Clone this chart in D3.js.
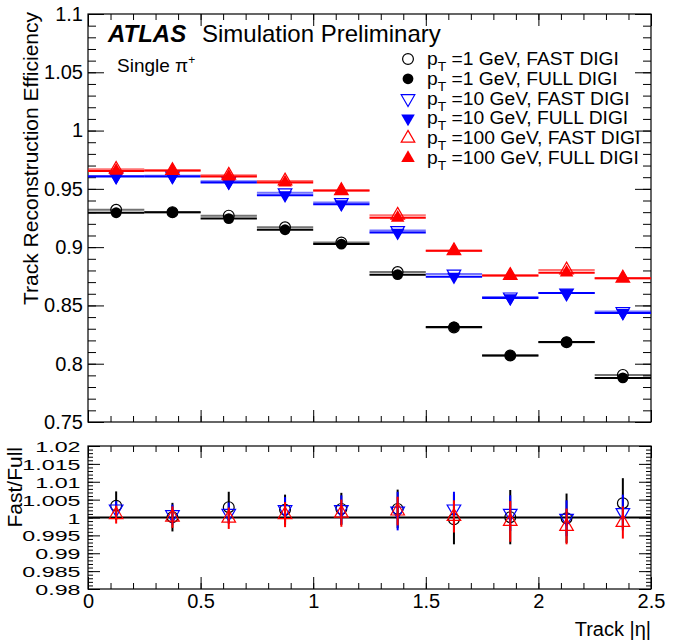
<!DOCTYPE html>
<html>
<head>
<meta charset="utf-8">
<script src="https://cdn.jsdelivr.net/npm/d3@7"></script>
<style>
body { margin: 0; background: #fff; }
text { font-family: "Liberation Sans", Arial, sans-serif; }
</style>
</head>
<body>
<svg id="chart" width="673" height="644"></svg>
<script>
// bins in track |eta|
var binEdges = [0, 0.25, 0.5, 0.75, 1, 1.25, 1.5, 1.75, 2, 2.25, 2.5];
var etaCenters = [0.125, 0.375, 0.625, 0.875, 1.125, 1.375, 1.625, 1.875, 2.125, 2.375];

// efficiencies
var effP1Fast = [0.932, 0.930, 0.927, 0.917, 0.904, 0.8786, 0.8311, 0.8071, 0.8185, 0.7904];
var effP1Full = [0.9295, 0.9300, 0.9245, 0.9149, 0.9026, 0.8764, 0.8315, 0.8070, 0.8187, 0.7878];
var effP10Fast = [0.9610, 0.9612, 0.9565, 0.9466, 0.9383, 0.9143, 0.8770, 0.8573, 0.8606, 0.8447];
var effP10Full = [0.9605, 0.9605, 0.9554, 0.9445, 0.9368, 0.9125, 0.8747, 0.8563, 0.8606, 0.8435];
var effP100Fast = [0.9668, 0.9657, 0.9617, 0.9568, 0.9485, 0.9274, 0.8969, 0.8757, 0.8804, 0.8734];
var effP100Full = [0.9654, 0.9657, 0.9605, 0.9554, 0.9485, 0.9252, 0.8969, 0.8757, 0.8781, 0.8734];

// fast/full ratio and its error, bottom pad
var ratioP1 = [1.0033, 1.0001, 1.0029, 1.0022, 1.0024, 1.0024, 0.9995, 1.0001, 0.9998, 1.0040];
var errP1 = [0.0040, 0.0040, 0.0043, 0.0042, 0.0045, 0.0054, 0.0070, 0.0076, 0.0069, 0.0070];
var ratioP10 = [1.0024, 1.0008, 1.0012, 1.0022, 1.0022, 1.0018, 1.0024, 1.0012, 0.9998, 1.0014];
var errP10 = [0.0022, 0.0028, 0.0030, 0.0035, 0.0040, 0.0054, 0.0048, 0.0050, 0.0050, 0.0050];
var ratioP100 = [1.0008, 1.0001, 0.9998, 1.0008, 1.0012, 1.0018, 1.0003, 0.9989, 0.9975, 0.9986];
var errP100 = [0.0025, 0.0030, 0.0030, 0.0035, 0.0038, 0.0040, 0.0045, 0.0057, 0.0050, 0.0045];

// tick labels
var yTopTicks = [0.75, 0.8, 0.85, 0.9, 0.95, 1, 1.05, 1.1];
var yTopLabels = ["0.75", "0.8", "0.85", "0.9", "0.95", "1", "1.05", "1.1"];
var yBotTicks = [0.98, 0.985, 0.99, 0.995, 1, 1.005, 1.01, 1.015, 1.02];
var yBotLabels = ["0.98", "0.985", "0.99", "0.995", "1", "1.005", "1.01", "1.015", "1.02"];
var xTicks = [0, 0.5, 1, 1.5, 2, 2.5];
var xLabels = ["0", "0.5", "1", "1.5", "2", "2.5"];

var legendLabels = [
    ["1", "FAST"], ["1", "FULL"], ["10", "FAST"], ["10", "FULL"], ["100", "FAST"], ["100", "FULL"]
];

var svg = d3.select("#chart");

var x = d3.scaleLinear().domain([0, 2.5]).range([88, 651]);
var yTop = d3.scaleLinear().domain([0.75, 1.1]).range([422, 14]);
var yBot = d3.scaleLinear().domain([0.98, 1.02]).range([589, 446]);

function ticks(axis, pos, scale, values, size, labels, horizontal) {
    var a = axis(scale).tickValues(values).tickSizeInner(size).tickSizeOuter(0).tickPadding(5);
    if (labels) {
        a.tickFormat(function (d, i) { return labels[i]; });
    } else {
        a.tickFormat("");
    }
    var g = svg.append("g")
        .attr("transform", horizontal ? "translate(0," + pos + ")" : "translate(" + pos + ",0)")
        .call(a);
    g.select(".domain").remove();
    g.selectAll("line").attr("stroke", "#000").attr("stroke-width", 1);
    g.selectAll("text").attr("font-size", 20).attr("fill", "#000")
        .style("font-family", '"Liberation Sans", Arial, sans-serif');
    return g;
}

var xMinor = d3.range(0, 2.5001, 0.1);

// top pad axes
ticks(d3.axisLeft, 88, yTop, d3.range(0.75, 1.1001, 0.01), -8);
ticks(d3.axisLeft, 88, yTop, yTopTicks, -16, yTopLabels);
ticks(d3.axisRight, 651, yTop, d3.range(0.75, 1.1001, 0.01), -8);
ticks(d3.axisRight, 651, yTop, yTopTicks, -16);
ticks(d3.axisBottom, 422, x, xMinor, -6, null, true);
ticks(d3.axisBottom, 422, x, xTicks, -12, null, true);
ticks(d3.axisTop, 14, x, xMinor, -6, null, true);
ticks(d3.axisTop, 14, x, xTicks, -12, null, true);

// bottom pad axes, labels stretched wide like the original
ticks(d3.axisLeft, 88, yBot, d3.range(0.98, 1.02001, 0.001), -5);
var botLab = ticks(d3.axisLeft, 88, yBot, yBotTicks, -12, yBotLabels);
botLab.selectAll("text").attr("font-size", 15.5).attr("dy", "0.36em")
    .attr("transform", "scale(1.5,1)");
ticks(d3.axisRight, 651, yBot, d3.range(0.98, 1.02001, 0.001), -5);
ticks(d3.axisRight, 651, yBot, yBotTicks, -12);
ticks(d3.axisTop, 446, x, xMinor, -6, null, true);
ticks(d3.axisTop, 446, x, xTicks, -12, null, true);
ticks(d3.axisBottom, 589, x, xMinor, -6, null, true);
ticks(d3.axisBottom, 589, x, xTicks, -12, xLabels, true);

// frames
svg.append("rect").attr("x", 88).attr("y", 14).attr("width", 563).attr("height", 408)
    .attr("fill", "none").attr("stroke", "#000").attr("stroke-width", 1.2);
svg.append("rect").attr("x", 88).attr("y", 446).attr("width", 563).attr("height", 143)
    .attr("fill", "none").attr("stroke", "#000").attr("stroke-width", 1.2);

// markers
var triSym = d3.symbol().type(d3.symbolTriangle).size(80);

function marker(g, cx, cy, shape, color, open) {
    var p;
    if (shape === "circle") {
        p = g.append("circle").attr("cx", cx).attr("cy", cy).attr("r", 5.4);
    } else {
        var rot = shape === "down" ? 180 : 0;
        p = g.append("path").attr("d", triSym())
            .attr("transform", "translate(" + cx + "," + cy + ") rotate(" + rot + ")");
    }
    if (open) {
        p.attr("fill", "none").attr("stroke", color).attr("stroke-width", 1.2);
    } else {
        p.attr("fill", color);
    }
    return p;
}

var topSeries = [
    { v: effP1Fast, color: "#000", shape: "circle", open: true },
    { v: effP1Full, color: "#000", shape: "circle", open: false },
    { v: effP10Fast, color: "#0000ff", shape: "down", open: true },
    { v: effP10Full, color: "#0000ff", shape: "down", open: false },
    { v: effP100Fast, color: "#ff0000", shape: "up", open: true },
    { v: effP100Full, color: "#ff0000", shape: "up", open: false }
];

var topG = svg.append("g");
topSeries.forEach(function (s) {
    topG.selectAll(null)
        .data(s.v)
        .enter()
        .append("line")
        .attr("x1", function (d, i) { return x(binEdges[i]); })
        .attr("x2", function (d, i) { return x(binEdges[i + 1]); })
        .attr("y1", function (d) { return yTop(d); })
        .attr("y2", function (d) { return yTop(d); })
        .attr("stroke", s.color)
        .attr("stroke-opacity", s.open ? 0.55 : 1)
        .attr("stroke-width", 2);
    s.v.forEach(function (d, i) {
        marker(topG, x(etaCenters[i]), yTop(d), s.shape, s.color, s.open);
    });
});

// ratio pad
svg.append("line").attr("x1", x(0)).attr("x2", x(2.5))
    .attr("y1", yBot(1)).attr("y2", yBot(1))
    .attr("stroke", "#000").attr("stroke-width", 2);

var ratioSeries = [
    { v: ratioP1, e: errP1, color: "#000", shape: "circle" },
    { v: ratioP10, e: errP10, color: "#0000ff", shape: "down" },
    { v: ratioP100, e: errP100, color: "#ff0000", shape: "up" }
];

var botG = svg.append("g");
ratioSeries.forEach(function (s) {
    botG.selectAll(null)
        .data(s.v)
        .enter()
        .append("line")
        .attr("x1", function (d, i) { return x(etaCenters[i]); })
        .attr("x2", function (d, i) { return x(etaCenters[i]); })
        .attr("y1", function (d, i) { return yBot(d + s.e[i]); })
        .attr("y2", function (d, i) { return yBot(d - s.e[i]); })
        .attr("stroke", s.color)
        .attr("stroke-width", 2);
    s.v.forEach(function (d, i) {
        marker(botG, x(etaCenters[i]), yBot(d), s.shape, s.color, true);
    });
});

// legend
var leg = svg.append("g");
legendLabels.forEach(function (l, i) {
    var s = topSeries[i];
    var ly = 59 + i * 19.8;
    marker(leg, 408, ly, s.shape, s.color, s.open);
    var t = leg.append("text")
        .attr("transform", "translate(427," + (ly + 6) + ") scale(1.07,1)")
        .attr("font-size", 18);
    t.append("tspan").text("p");
    t.append("tspan").attr("font-size", 13).attr("dy", 6).text("T");
    t.append("tspan").attr("dy", -6).text(" =" + l[0] + " GeV, " + l[1] + " DIGI");
});

// labels
svg.append("text").attr("x", 108).attr("y", 42).attr("font-size", 24)
    .attr("font-weight", "bold").attr("font-style", "italic").text("ATLAS");
svg.append("text").attr("x", 202).attr("y", 42).attr("font-size", 24).text("Simulation Preliminary");

var single = svg.append("text").attr("x", 117).attr("y", 72).attr("font-size", 19);
single.append("tspan").text("Single \u03c0");
single.append("tspan").attr("font-size", 12).attr("dy", -8).text("+");

svg.append("text")
    .attr("transform", "translate(38,12) rotate(-90)")
    .attr("text-anchor", "end").attr("font-size", 21)
    .text("Track Reconstruction Efficiency");
svg.append("text")
    .attr("transform", "translate(22,447) rotate(-90)")
    .attr("text-anchor", "end").attr("font-size", 21)
    .text("Fast/Full");
svg.append("text").attr("x", 651).attr("y", 636).attr("text-anchor", "end")
    .attr("font-size", 20).text("Track |\u03b7|");
</script>
</body>
</html>
